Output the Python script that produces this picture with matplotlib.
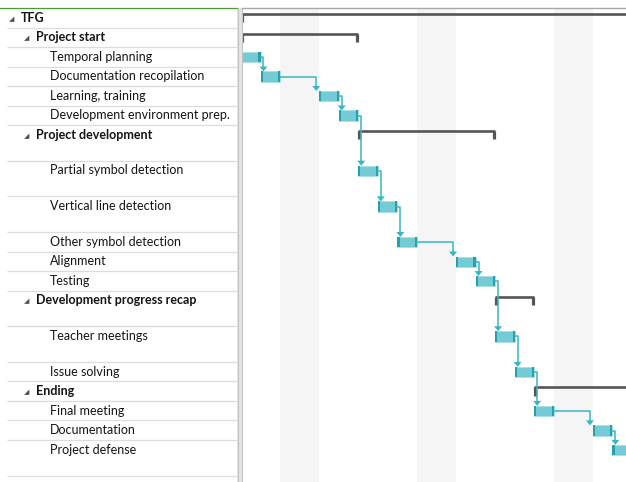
import numpy as np
import matplotlib
matplotlib.use('Agg')
import matplotlib.pyplot as plt
from matplotlib.patches import Rectangle, Polygon

# task table, level 0 = project, 1 = phase, 2 = task
names = ['TFG', 'Project start', 'Temporal planning', 'Documentation recopilation',
         'Learning, training', 'Development environment prep.', 'Project development',
         'Partial symbol detection', 'Vertical line detection', 'Other symbol detection',
         'Alignment', 'Testing', 'Development progress recap', 'Teacher meetings',
         'Issue solving', 'Ending', 'Final meeting', 'Documentation', 'Project defense']
levels = [0, 1, 2, 2, 2, 2, 1, 2, 2, 2, 2, 2, 1, 2, 2, 1, 2, 2, 2]
tall = [0, 0, 0, 0, 0, 0, 1, 1, 1, 0, 0, 0, 1, 1, 0, 0, 0, 0, 1]
# start / finish in weeks
starts = [0, 0, 0, 1, 4, 5, 6, 6, 7, 8, 11, 12, 13, 13, 14, 15, 15, 18, 19]
ends = [20, 6, 1, 2, 5, 6, 13, 7, 8, 9, 12, 13, 15, 14, 15, 20, 16, 19, 20]
# predecessor -> successor
links = [(2, 3), (3, 4), (4, 5), (5, 7), (7, 8), (8, 9), (9, 10), (10, 11),
         (11, 13), (13, 14), (14, 16), (16, 17), (17, 18)]
# non working periods (weeks)
shaded = [(2, 4), (9, 11), (16, 18)]

W, H = 626, 482
TOP = 8          # header line, px
ROW = 19.5       # px per normal row
WEEK = 19.55     # px per week
X0 = 241         # chart start, px
TABLE_W = 237

heights = 1 + 0.83 * np.array(tall)
tops = np.concatenate([[0], np.cumsum(heights)[:-1]])
ymax = (H - TOP) / ROW

BAR = '#72CBD5'
BAR_END = '#28A0AC'
LINK = '#38B6C6'
SUMM = '#555555'

fig = plt.figure(figsize=(W / 100, H / 100), dpi=100)
fig.patch.set_facecolor('white')

# ---- left table ----
tab = fig.add_axes([0, 0, TABLE_W / W, (H - TOP) / H])
tab.set_xlim(0, TABLE_W)
tab.set_ylim(ymax, 0)
tab.axis('off')

indent = {0: 21, 1: 36, 2: 50}
for i, name in enumerate(names):
  y = tops[i] + 0.5
  lv = levels[i]
  bold = lv < 2
  if bold:
    tab.text(indent[lv] - 12, y + 0.05, '\u25e2', fontsize=5, color='#505050',
             ha='left', va='center', family='DejaVu Sans')
  tab.text(indent[lv], y, name, fontsize=9.0, color='#141414', ha='left', va='center',
           fontweight='bold' if bold else 'normal', family=['Lato', 'DejaVu Sans'])
  yb = tops[i] + heights[i]
  tab.plot([7, TABLE_W], [yb, yb], color='#DCDCDC', lw=0.9, solid_capstyle='butt')

# top green border of the table
fig.add_artist(plt.Line2D([0, TABLE_W / W], [(H - TOP) / H] * 2, color='#4C9A3C', lw=0.9))
# splitter
fig.add_artist(Rectangle((TABLE_W / W, 0), 5 / W, (H - TOP) / H, transform=fig.transFigure,
                         facecolor='#E4E4E4', edgecolor='none'))
for xs in (TABLE_W + 0.5, TABLE_W + 4.5):
  fig.add_artist(plt.Line2D([xs / W] * 2, [0, (H - TOP) / H], color='#C4C4C4', lw=0.8))
# chart top border
fig.add_artist(plt.Line2D([(TABLE_W + 5) / W, 1], [(H - TOP + 0.5) / H] * 2, color='#A8A8A8', lw=1.0))

# ---- gantt chart ----
ax = fig.add_axes([X0 / W, 0, (W - X0) / W, (H - TOP) / H])
ax.set_xlim(0, (W - X0) / WEEK)
ax.set_ylim(ymax, 0)
ax.axis('off')

for a, b in shaded:
  ax.axvspan(a, b, color='#F5F5F5', lw=0, zorder=0)

bh = 0.53
for i in range(len(names)):
  if levels[i] < 2:
    yl = tops[i] + 0.31
    yt = tops[i] + 0.74
    ax.plot([starts[i], ends[i]], [yl, yl], color=SUMM, lw=1.9, solid_capstyle='butt', zorder=3)
    for xe, off in ((starts[i], 0.06), (ends[i], -0.06)):
      ax.plot([xe + off, xe + off], [yl, yt], color=SUMM, lw=2.3, solid_capstyle='butt', zorder=3)
  else:
    yc = tops[i] + 0.52
    ax.add_patch(Rectangle((starts[i], yc - bh / 2), ends[i] - starts[i], bh,
                           facecolor=BAR, edgecolor='#A9DFE5', lw=0.6, zorder=4))
    for xe in (starts[i], ends[i] - 0.11):
      ax.add_patch(Rectangle((xe, yc - bh / 2), 0.11, bh, facecolor=BAR_END,
                             edgecolor='none', zorder=5))

aw = 4.0 / WEEK
ah = 5.0 / ROW
for p, s in links:
  yp = tops[p] + 0.52
  ys = tops[s] + 0.52 - bh / 2
  xa = max(ends[p] + 0.15, starts[s] - 0.15)
  ax.plot([ends[p], xa, xa], [yp, yp, ys - ah * 0.6], color=LINK, lw=1.1, zorder=6)
  ax.add_patch(Polygon([[xa - aw, ys - ah], [xa + aw, ys - ah], [xa, ys]], closed=True,
                       facecolor=LINK, edgecolor='none', zorder=6))

fig.savefig('out.png', dpi=100)
